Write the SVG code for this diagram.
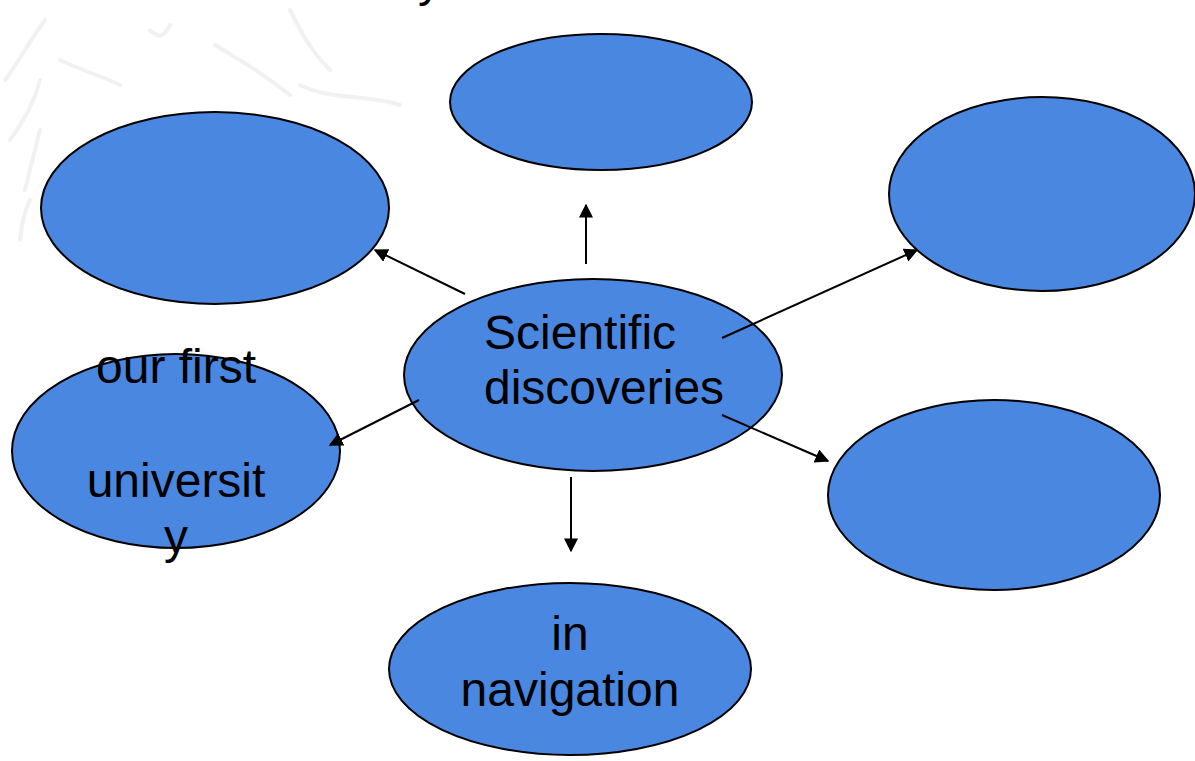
<svg xmlns="http://www.w3.org/2000/svg" width="1195" height="761" viewBox="0 0 1195 761">
<defs>
<style>
.node{fill:#4a87e0;stroke:#000;stroke-width:2}
.lbl{font-family:"Liberation Sans",Arial,sans-serif;font-size:48px;fill:#000}
.conn{stroke:#000;stroke-width:2;fill:none;marker-end:url(#ah)}
.bg{fill:none;stroke:#f1f1f1;stroke-width:4;stroke-linecap:round}
</style>
<marker id="ah" viewBox="0 0 10 10" refX="9" refY="5" markerWidth="14" markerHeight="14" orient="auto" markerUnits="userSpaceOnUse">
<path d="M0,0 L10,5 L0,10 z" fill="#000"/>
</marker>
</defs>
<rect width="1195" height="761" fill="#fff"/>
<g id="background">
<path class="bg" d="M5,80 C20,60 30,40 45,20 M10,140 C25,120 35,100 40,80 M150,30 C160,40 165,35 170,25 M215,45 C240,60 265,75 290,95 M290,10 C300,30 310,50 330,70 M300,85 C330,100 370,95 400,105 M60,60 C80,70 100,75 120,85"/>
<path class="bg" d="M25,190 C30,170 35,150 40,130 M20,240 C22,220 25,210 30,200"/>
</g>
<text class="lbl" x="418" y="-4">y</text>
<g id="node-top"><ellipse class="node" cx="601" cy="102" rx="151" ry="68"/></g>
<g id="node-topleft"><ellipse class="node" cx="215" cy="208" rx="174" ry="96"/></g>
<g id="node-topright"><ellipse class="node" cx="1042" cy="194" rx="153" ry="97"/></g>
<g id="node-left">
<ellipse class="node" cx="176" cy="451" rx="164" ry="97"/>
<text class="lbl" x="176" y="383" text-anchor="middle">our first</text>
<text class="lbl" x="176" y="497" text-anchor="middle">universit</text>
<text class="lbl" x="176" y="553" text-anchor="middle">y</text>
</g>
<g id="node-rightbottom"><ellipse class="node" cx="994" cy="495" rx="166" ry="95"/></g>
<g id="node-bottom">
<ellipse class="node" cx="570" cy="669" rx="181" ry="86"/>
<text class="lbl" x="570" y="650" text-anchor="middle">in</text>
<text class="lbl" x="570" y="706" text-anchor="middle">navigation</text>
</g>
<g id="node-center">
<ellipse class="node" cx="593" cy="375" rx="189" ry="96"/>
<text class="lbl" x="484" y="349">Scientific</text>
<text class="lbl" x="484" y="404">discoveries</text>
</g>
<g id="connectors">
<line class="conn" x1="586" y1="264" x2="586" y2="205"/>
<line class="conn" x1="465" y1="294" x2="375" y2="250"/>
<line class="conn" x1="722" y1="338" x2="917" y2="250"/>
<line class="conn" x1="419" y1="400" x2="330" y2="445"/>
<line class="conn" x1="722" y1="415" x2="828" y2="461"/>
<line class="conn" x1="571" y1="477" x2="571" y2="551"/>
</g>
</svg>
